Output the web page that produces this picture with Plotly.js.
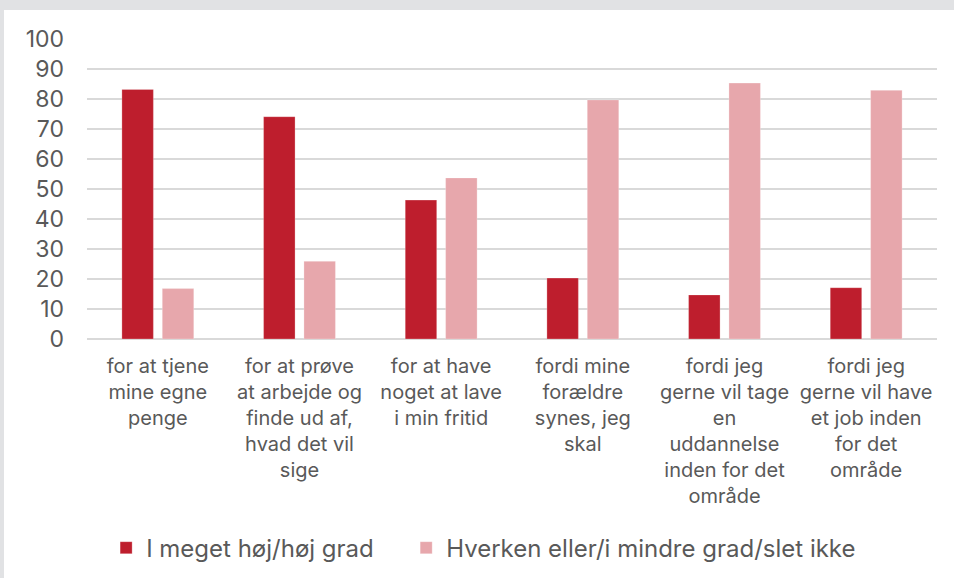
<!DOCTYPE html>
<html>
<head>
<meta charset="utf-8">
<script src="https://cdn.plot.ly/plotly-3.0.1.min.js"></script>
<style>
  html, body { margin: 0; padding: 0; background: #e1e2e4; width: 954px; height: 578px; overflow: hidden; }
  #chart { position: absolute; left: 4px; top: 10px; width: 950px; height: 568px; background: #ffffff; }
</style>
</head>
<body>
<div id="chart"></div>
<script>
const categories = [
  "for at tjene<br>mine egne<br>penge",
  "for at prøve<br>at arbejde og<br>finde ud af,<br>hvad det vil<br>sige",
  "for at have<br>noget at lave<br>i min fritid",
  "fordi mine<br>forældre<br>synes, jeg<br>skal",
  "fordi jeg<br>gerne vil tage<br>en<br>uddannelse<br>inden for det<br>område",
  "fordi jeg<br>gerne vil have<br>et job inden<br>for det<br>område"
];
const seriesNames = ["I meget høj/høj grad", "Hverken eller/i mindre grad/slet ikke"];
const highValues = [83.2, 74.1, 46.3, 20.3, 14.7, 17.1];
const lowValues = [16.8, 25.9, 53.7, 79.7, 85.3, 82.9];
const colors = ["#be1e2d", "#e7a7ac"];

const fam = "Inter, 'Noto Sans', sans-serif";
const txt = "#595959";

const traces = [
  {type: "bar", name: seriesNames[0], x: categories, y: highValues, legend: "legend",
   marker: {color: colors[0], line: {color: "rgba(255,255,255,0.5)", width: 0.5}}, hoverinfo: "skip"},
  {type: "bar", name: seriesNames[1], x: categories, y: lowValues, legend: "legend2",
   marker: {color: colors[1], line: {color: "rgba(255,255,255,0.5)", width: 0.5}}, hoverinfo: "skip"}
];

const legendFont = {family: fam, size: 24, color: txt};

const layout = {
  width: 950, height: 568,
  margin: {l: 83, r: 17, t: 29, b: 239, autoexpand: false},
  paper_bgcolor: "#ffffff",
  plot_bgcolor: "#ffffff",
  font: {family: fam, size: 20, color: txt},
  barmode: "group",
  bargap: 0.43,
  bargroupgap: 0.22,
  showlegend: true,
  legend: {
    orientation: "h", x: 0.0225, xanchor: "left", y: -0.697, yanchor: "middle",
    font: legendFont, bgcolor: "rgba(0,0,0,0)"
  },
  legend2: {
    orientation: "h", x: 0.3755, xanchor: "left", y: -0.697, yanchor: "middle",
    font: legendFont, bgcolor: "rgba(0,0,0,0)"
  },
  xaxis: {
    type: "category", showgrid: false, zeroline: false, showline: false,
    ticks: "", tickangle: 0, ticklabelstandoff: 13,
    tickfont: {family: fam, size: 20, color: txt}
  },
  yaxis: {
    range: [0, 100], dtick: 10, tick0: 0, showgrid: true, gridcolor: "#d9d9d9", gridwidth: 1.5,
    zeroline: true, zerolinecolor: "#d9d9d9", zerolinewidth: 1.5, showline: false,
    ticks: "", ticklabelstandoff: 22, tickfont: {family: fam, size: 23, color: txt}, fixedrange: true
  }
};

Plotly.newPlot("chart", traces, layout, {displayModeBar: false, staticPlot: true});
</script>
</body>
</html>
